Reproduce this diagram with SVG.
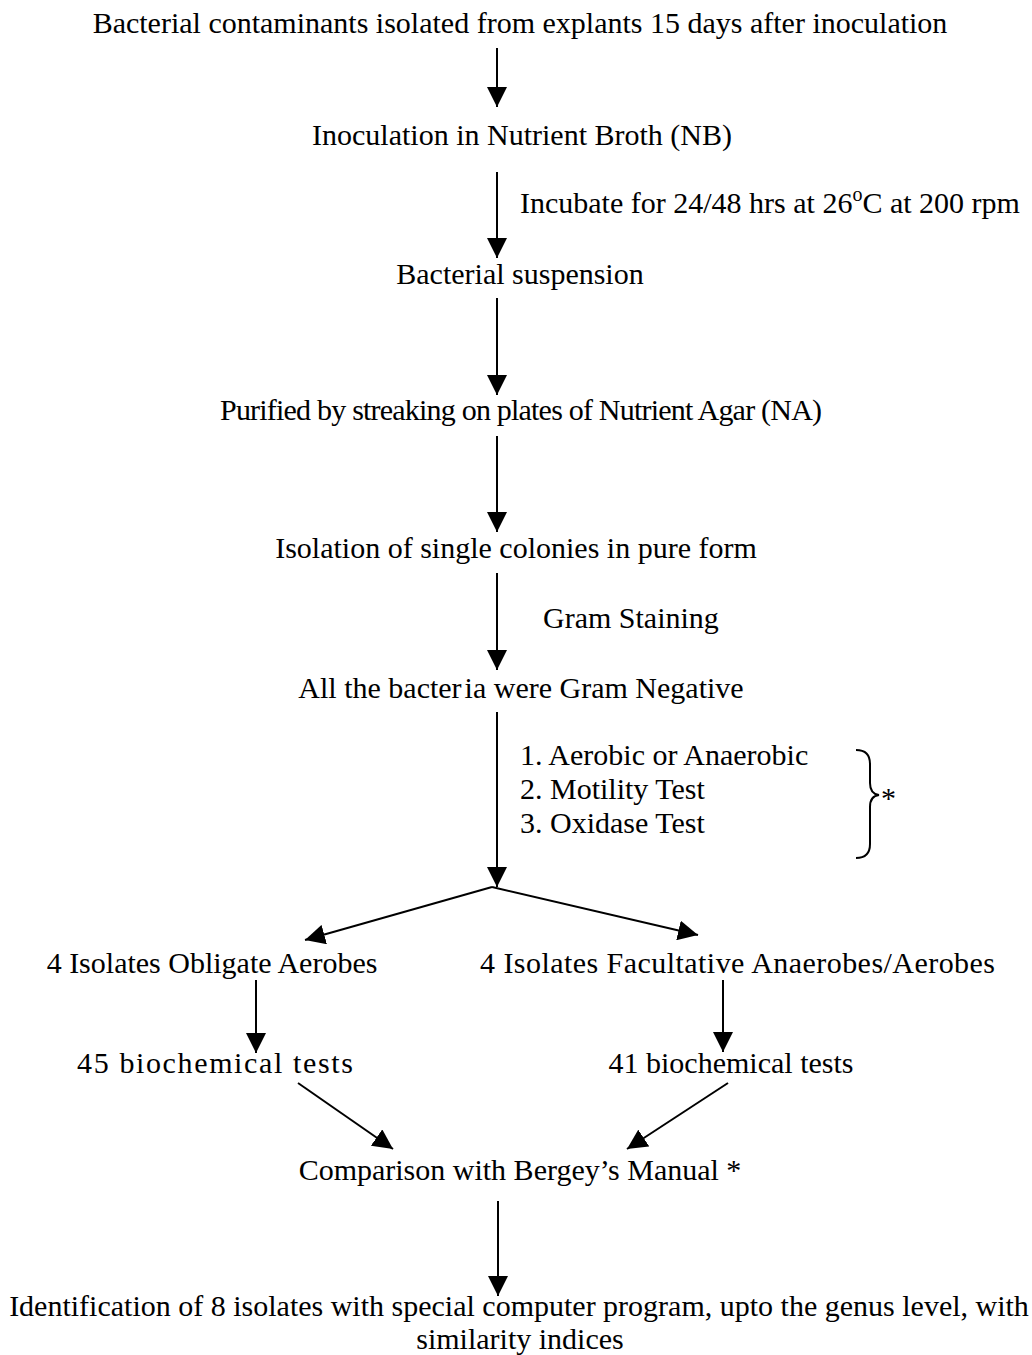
<svg xmlns="http://www.w3.org/2000/svg" width="1032" height="1355" viewBox="0 0 1032 1355">
<defs>
<marker id="ah" markerUnits="userSpaceOnUse" markerWidth="20" markerHeight="20" viewBox="0 0 20 20" refX="20" refY="10" orient="auto">
<path d="M0,0 L20,10 L0,20 Z" fill="#000"/>
</marker>
</defs>
<style>
text{font-family:"Liberation Serif","Times New Roman",serif;font-size:30px;fill:#000}
.c{text-anchor:middle}
.e{stroke:#000;stroke-width:2;fill:none}
</style>
<rect width="1032" height="1355" fill="#fff"/>
<g id="n1"><text class="c" x="520" y="33">Bacterial contaminants isolated from explants 15 days after inoculation</text></g>
<g id="n2"><text class="c" x="522" y="145">Inoculation in Nutrient Broth (NB)</text></g>
<g id="l1"><text x="520" y="213">Incubate for 24/48 hrs at 26<tspan dy="-12" font-size="20">o</tspan><tspan dy="12">C at 200 rpm</tspan></text></g>
<g id="n3"><text class="c" x="520" y="284">Bacterial suspension</text></g>
<g id="n4"><text x="220" y="420" textLength="602" lengthAdjust="spacing">Purified by streaking on plates of Nutrient Agar (NA)</text></g>
<g id="n5"><text class="c" x="516" y="558">Isolation of single colonies in pure form</text></g>
<g id="l2"><text x="543" y="628">Gram Staining</text></g>
<g id="n6"><text class="c" x="521" y="698">All the bacter<tspan dx="3">ia were Gram Negative</tspan></text></g>
<g id="l3">
<text x="520" y="765">1. Aerobic or Anaerobic</text>
<text x="520" y="799">2. Motility Test</text>
<text x="520" y="833">3. Oxidase Test</text>
<path class="e" d="M856,750 Q870,750 870,764 L870,783 Q870,794 879,795 Q870,796 870,807 L870,844 Q870,858 856,858" stroke-width="1.8"/>
<text x="881" y="808">*</text>
</g>
<g id="n7"><text class="c" x="212" y="973">4 Isolates Obligate Aerobes</text></g>
<g id="n8"><text x="480" y="973" textLength="515" lengthAdjust="spacing">4 Isolates Facultative Anaerobes/Aerobes</text></g>
<g id="n9"><text x="77" y="1073" textLength="276" lengthAdjust="spacing">45 biochemical tests</text></g>
<g id="n10"><text class="c" x="731" y="1073">41 biochemical tests</text></g>
<g id="n11"><text class="c" x="520" y="1180">Comparison with Bergey’s Manual *</text></g>
<g id="n12">
<text class="c" x="519" y="1316">Identification of 8 isolates with special computer program, upto the genus level, with</text>
<text class="c" x="520" y="1349">similarity indices</text>
</g>
<g id="connectors">
<line class="e" x1="497" y1="48" x2="497" y2="107" marker-end="url(#ah)"/>
<line class="e" x1="497" y1="172" x2="497" y2="258" marker-end="url(#ah)"/>
<line class="e" x1="497" y1="298" x2="497" y2="395" marker-end="url(#ah)"/>
<line class="e" x1="497" y1="436" x2="497" y2="532" marker-end="url(#ah)"/>
<line class="e" x1="497" y1="573" x2="497" y2="670" marker-end="url(#ah)"/>
<line class="e" x1="497" y1="712" x2="497" y2="887" marker-end="url(#ah)"/>
<line class="e" x1="492" y1="887" x2="305" y2="940" marker-end="url(#ah)"/>
<line class="e" x1="492" y1="887" x2="698" y2="935" marker-end="url(#ah)"/>
<line class="e" x1="256" y1="980" x2="256" y2="1053" marker-end="url(#ah)"/>
<line class="e" x1="723" y1="980" x2="723" y2="1052" marker-end="url(#ah)"/>
<line class="e" x1="298" y1="1083" x2="393" y2="1149" marker-end="url(#ah)"/>
<line class="e" x1="728" y1="1083" x2="627" y2="1149" marker-end="url(#ah)"/>
<line class="e" x1="498" y1="1201" x2="498" y2="1296" marker-end="url(#ah)"/>
</g>
</svg>
